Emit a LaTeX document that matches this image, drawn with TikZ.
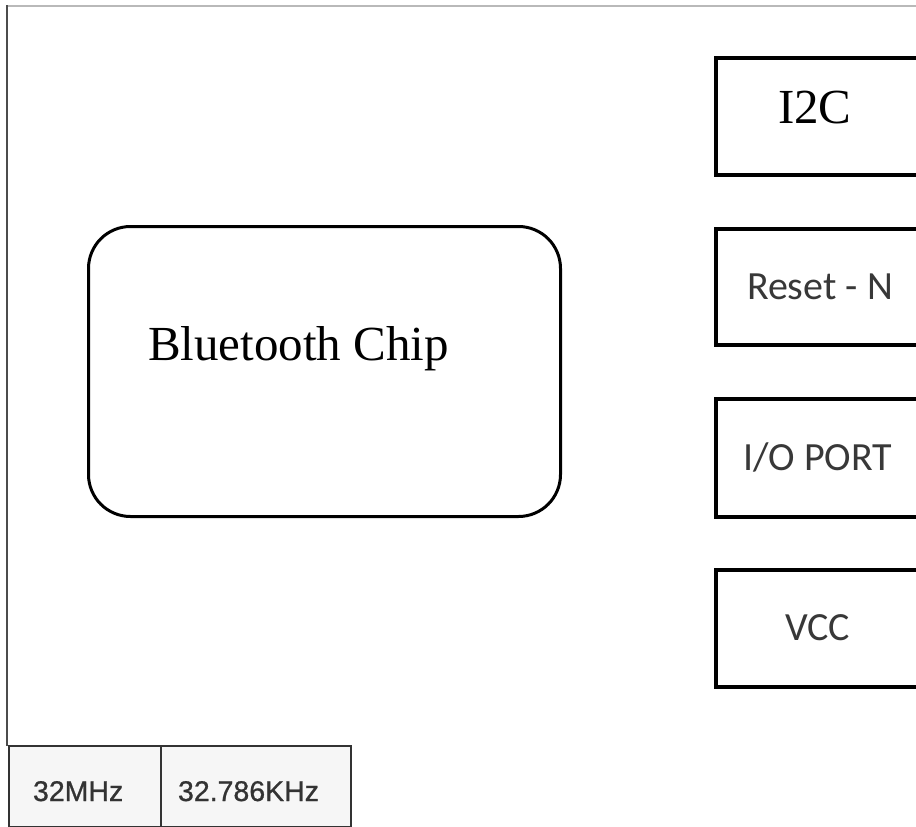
\documentclass[tikz,border=0pt]{standalone}
\usepackage{fontspec}
\setmainfont{Liberation Serif}
\newfontfamily\calfont{Carlito}
\newfontfamily\clkfont[FakeBold=0.8]{Liberation Sans}
\begin{document}
\begin{tikzpicture}[x=1pt,y=-1pt,
  sidebox/.style={draw=black,line width=3.5pt,rectangle,minimum width=240pt,minimum height=#1,inner sep=0pt,anchor=north west},
  txt/.style={anchor=base west,inner sep=0pt,outer sep=0pt},
  clkbox/.style={draw=black!80,line width=2pt,fill=gray!7,rectangle,inner sep=0pt,anchor=north west},
  clktxt/.style={txt,font=\clkfont\fontsize{28.5}{34}\selectfont,text=black!80},
]
\useasboundingbox (0,0) rectangle (916,827);
\clip (0,0) rectangle (916,827);
\fill[white] (0,0) rectangle (916,827);
% frame
\draw[gray!55,line width=1.5pt] (6,6) -- (920,6);
\coordinate (ftop) at (7,5);
\coordinate (fbot) at (7,746);
\draw[black!70,line width=2pt] (ftop) -- (fbot);
% chip
\node[draw=black,line width=3pt,rounded corners=42pt,rectangle,minimum width=472pt,minimum height=290pt,anchor=north west,inner sep=0pt] (chip) at (87,225) {};
\node[txt,font=\fontsize{49}{58}\selectfont] (chiptxt) at (148,360) {Bluetooth Chip};
% side boxes
\node[sidebox=117pt] (i2c) at (714,56) {};
\node[txt,font=\fontsize{49}{58}\selectfont] (i2ctxt) at (778,123) {I2C};
\node[sidebox=116pt] (rst) at (714,227) {};
\node[txt,font=\calfont\fontsize{40}{48}\selectfont,text=black!78] (rsttxt) at (747,299) {Reset - N};
\node[sidebox=118pt] (io) at (714,397) {};
\node[txt,font=\calfont\fontsize{40}{48}\selectfont,text=black!78] (iotxt) at (743,470) {I/O PORT};
\node[sidebox=117pt] (vcc) at (714,568) {};
\node[txt,font=\calfont\fontsize{40}{48}\selectfont,text=black!78] (vcctxt) at (785,640) {VCC};
% clocks
\node[clkbox,minimum width=152pt,minimum height=81pt] (c1) at (8,745) {};
\node[clkbox,minimum width=190pt,minimum height=81pt] (c2) at (160,745) {};
\node[clktxt] (c1t) at (33,801) {32MHz};
\node[clktxt] (c2t) at (178,801) {32.786KHz};
\end{tikzpicture}
\end{document}
